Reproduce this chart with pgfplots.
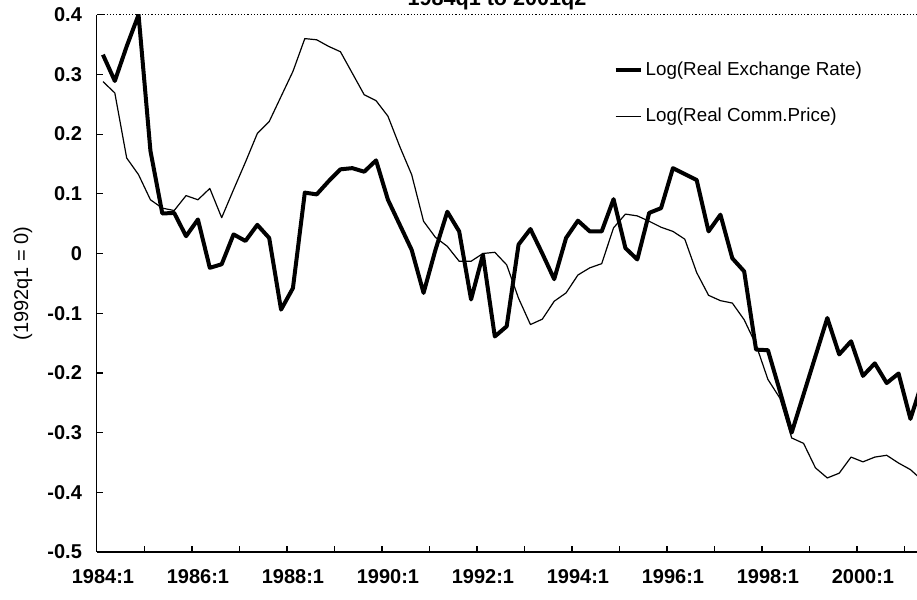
\documentclass[border=0pt]{standalone}
\usepackage{fontspec}
\setmainfont{Liberation Sans}
\usepackage{pgfplots}
\pgfplotsset{compat=1.18}
\usepackage{pgfplotstable}

\pgfplotstableread{
i reer comm
0 0.333 0.288
1 0.289 0.269
2 0.347 0.160
3 0.400 0.132
4 0.172 0.090
5 0.067 0.076
6 0.068 0.072
7 0.029 0.097
8 0.057 0.090
9 -0.024 0.109
10 -0.018 0.060
11 0.032 0.107
12 0.021 0.153
13 0.048 0.201
14 0.026 0.221
15 -0.094 0.263
16 -0.058 0.305
17 0.102 0.360
18 0.099 0.358
19 0.121 0.347
20 0.141 0.338
21 0.143 0.302
22 0.137 0.266
23 0.156 0.256
24 0.090 0.230
25 0.048 0.179
26 0.006 0.132
27 -0.066 0.054
28 0.006 0.027
29 0.070 0.012
30 0.037 -0.013
31 -0.077 -0.013
32 -0.002 0.000
33 -0.139 0.002
34 -0.122 -0.019
35 0.015 -0.075
36 0.041 -0.119
37 0.000 -0.110
38 -0.043 -0.080
39 0.026 -0.066
40 0.055 -0.036
41 0.037 -0.024
42 0.037 -0.017
43 0.091 0.043
44 0.009 0.066
45 -0.010 0.063
46 0.068 0.054
47 0.076 0.044
48 0.143 0.037
49 0.133 0.024
50 0.123 -0.032
51 0.037 -0.070
52 0.065 -0.079
53 -0.008 -0.083
54 -0.030 -0.111
55 -0.161 -0.153
56 -0.162 -0.211
57 -0.230 -0.242
58 -0.300 -0.309
59 -0.236 -0.318
60 -0.172 -0.359
61 -0.108 -0.376
62 -0.169 -0.368
63 -0.147 -0.341
64 -0.205 -0.349
65 -0.184 -0.341
66 -0.217 -0.338
67 -0.201 -0.351
68 -0.277 -0.362
69 -0.215 -0.380
}\data

\begin{document}
\begin{tikzpicture}
\begin{axis}[
  name=ax,
  scale only axis,
  width=415.625pt, height=268.65pt,
  xmin=-0.5, xmax=69.5,
  ymin=-0.5, ymax=0.4,
  axis x line*=bottom, axis y line*=left,
  axis line style={-},
  x axis line style={line width=1pt},
  y axis line style={line width=0.5pt},
  tick align=inside,
  major tick length=3pt,
  tick style={black, line width=0.6pt},
  xtick={3.5,7.5,...,67.5},
  xticklabels={},
  extra x ticks={0,8,16,24,32,40,48,56,64},
  extra x tick labels={1984:1,1986:1,1988:1,1990:1,1992:1,1994:1,1996:1,1998:1,2000:1},
  extra x tick style={major tick length=0pt, grid=none},
  ytick={-0.5,-0.4,-0.3,-0.2,-0.1,0,0.1,0.2,0.3,0.4},
  yticklabels={-0.5,-0.4,-0.3,-0.2,-0.1,0,0.1,0.2,0.3,0.4},
  xticklabel style={font=\bfseries\fontsize{10}{12}\selectfont, yshift=-5pt},
  yticklabel style={font=\bfseries\fontsize{10}{12}\selectfont, xshift=-4pt},
  ylabel={(1992q1 = 0)},
  every axis y label/.style={at={(axis description cs:-0.089,0.5)}, rotate=90, anchor=center, font=\fontsize{10}{12}\selectfont},
  legend style={at={(0.621,0.918)}, anchor=north west, draw=none, fill=none,
    font=\fontsize{9.4}{11}\selectfont, row sep=11.5pt, inner sep=0pt,
    nodes={inner sep=1.5pt}},
  legend cell align=left,
  legend image code/.code={\draw[#1] (0pt,0pt) -- (12.5pt,0pt);},
]
\addplot[black, line width=2pt, line join=round] table[x=i, y=reer]{\data};
\addlegendentry{Log(Real Exchange Rate)}
\addplot[black, line width=0.6pt, line join=round] table[x=i, y=comm]{\data};
\addlegendentry{Log(Real Comm.Price)}
\draw[densely dotted, line width=0.6pt] (rel axis cs:0,1) -- (rel axis cs:1,1);
\end{axis}
\node[font=\bfseries\fontsize{10.8}{12}\selectfont, anchor=base] at ([shift={(200pt,4.6pt)}]ax.north west) {1984q1 to 2001q2};
\pgfresetboundingbox
\path[use as bounding box] ([shift={(-48.5pt,-24pt)}]ax.south west) rectangle ([shift={(410pt,276pt)}]ax.south west);
\end{tikzpicture}
\end{document}
